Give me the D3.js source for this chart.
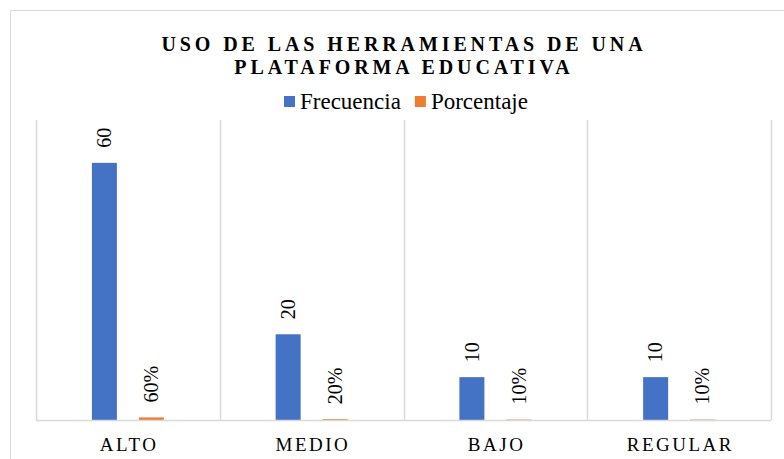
<!DOCTYPE html>
<meta charset="utf-8">
<style>
    html, body { margin:0; padding:0; overflow:hidden; background:#fff }
</style>
<svg id="chart" width="784" height="459"></svg>
<script src="https://cdn.jsdelivr.net/npm/d3@7"></script>
<script>

    // data
    var categories = ["ALTO", "MEDIO", "BAJO", "REGULAR"];
    var seriesNames = ["Frecuencia", "Porcentaje"];
    var frecuencia = [60, 20, 10, 10];
    var porcentaje = [0.6, 0.2, 0.1, 0.1];
    var titleLines = ["USO DE LAS HERRAMIENTAS DE UNA", "PLATAFORMA EDUCATIVA"];
    var colors = ["#4472C4", "#ED7D31"];

    var serif = "'Liberation Serif', 'Times New Roman', Times, serif";

    var svg = d3.select("#chart");

    var plotLeft = 36, plotRight = 771, plotTop = 120, plotBottom = 420;
    var grid = "#d9d9d9";

    // outer frame
    svg.append("rect")
        .attr("x", 10.5).attr("y", 10.5)
        .attr("width", 800).attr("height", 470)
        .attr("fill", "none").attr("stroke", grid);

    var x = d3.scaleBand().domain(categories).range([plotLeft, plotRight]);
    var xs = d3.scaleBand().domain(seriesNames)
        .range([0, x.bandwidth()])
        .paddingInner(0.468).paddingOuter(1.19);
    var y = d3.scaleLinear().domain([0, 70]).range([plotBottom, plotTop]);

    // vertical gridlines between categories
    var edges = categories.map(function(c) { return x(c); }).concat([plotRight]);
    svg.append("g").selectAll("line")
        .data(edges).enter().append("line")
        .attr("x1", function(d) { return Math.round(d) + 0.5; })
        .attr("x2", function(d) { return Math.round(d) + 0.5; })
        .attr("y1", plotTop).attr("y2", plotBottom)
        .attr("stroke", grid).attr("stroke-width", 1.5);

    var rows = categories.map(function(c, i) {
        return [
            { cat: c, s: seriesNames[0], v: frecuencia[i], label: String(frecuencia[i]), color: colors[0] },
            { cat: c, s: seriesNames[1], v: porcentaje[i], label: d3.format(".0%")(porcentaje[i]), color: colors[1] }
        ];
    });
    var bars = [].concat.apply([], rows);

    svg.append("g").selectAll("rect")
        .data(bars).enter().append("rect")
        .attr("x", function(d) { return x(d.cat) + xs(d.s); })
        .attr("y", function(d) { return y(d.v); })
        .attr("width", xs.bandwidth())
        .attr("height", function(d) { return y(0) - y(d.v); })
        .attr("fill", function(d) { return d.color; });

    // baseline
    svg.append("line")
        .attr("x1", plotLeft).attr("x2", plotRight)
        .attr("y1", plotBottom + 0.5).attr("y2", plotBottom + 0.5)
        .attr("stroke", grid).attr("stroke-width", 1.5);

    // data labels, rotated
    svg.append("g").selectAll("text")
        .data(bars).enter().append("text")
        .attr("transform", function(d) {
            var cx = x(d.cat) + xs(d.s) + xs.bandwidth() / 2;
            return "translate(" + cx + "," + (y(d.v) - 15) + ") rotate(-90)";
        })
        .attr("dy", "0.34em")
        .attr("font-family", serif)
        .attr("font-size", 20)
        .attr("fill", "#000")
        .text(function(d) { return d.label; });

    // category labels
    svg.append("g").selectAll("text")
        .data(categories).enter().append("text")
        .attr("x", function(d) { return x(d) + x.bandwidth() / 2 + 1.25; })
        .attr("y", 451)
        .attr("text-anchor", "middle")
        .attr("font-family", serif)
        .attr("font-size", 19)
        .attr("letter-spacing", 2.5)
        .attr("fill", "#000")
        .text(function(d) { return d; });

    // title
    svg.append("g").selectAll("text")
        .data(titleLines).enter().append("text")
        .attr("x", 402 + 2)
        .attr("y", function(d, i) { return 50.5 + i * 23.5; })
        .attr("text-anchor", "middle")
        .attr("font-family", serif)
        .attr("font-size", 20)
        .attr("font-weight", "bold")
        .attr("letter-spacing", 3.9)
        .attr("fill", "#000")
        .text(function(d) { return d; });

    // legend
    var lg = svg.append("g");
    var lx = 284;
    seriesNames.forEach(function(name, i) {
        lg.append("rect")
            .attr("x", lx).attr("y", 96)
            .attr("width", 11).attr("height", 11)
            .attr("fill", colors[i]);
        var t = lg.append("text")
            .attr("x", lx + 16).attr("y", 109)
            .attr("font-family", serif)
            .attr("font-size", 23)
            .attr("fill", "#000")
            .text(name);
        lx += 16 + t.node().getComputedTextLength() + 14;
    });

</script>
